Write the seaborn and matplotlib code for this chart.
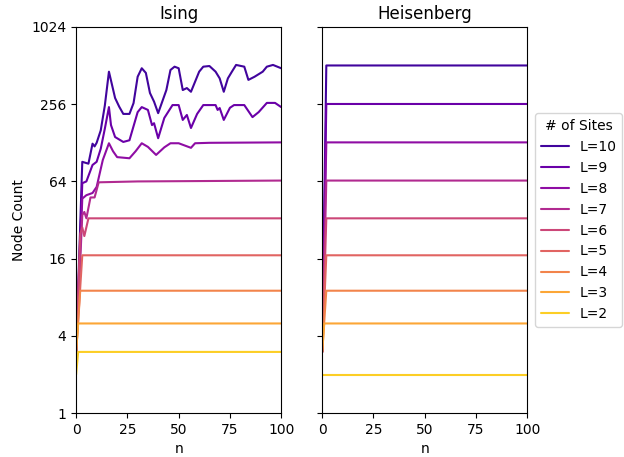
import numpy as np
import pandas as pd
import matplotlib
matplotlib.use("Agg")
import matplotlib.pyplot as plt
import seaborn as sns

# Node count vs. n for Ising and Heisenberg models, one line per number of sites

sites = [10, 9, 8, 7, 6, 5, 4, 3, 2]

# Ising: steps n and node counts
ising_n = {
    10: [0, 3, 6, 8, 9, 10, 12, 14, 16, 19, 21, 23, 26, 28, 30, 32, 34, 36, 38, 40, 44, 46, 48, 50,
         52, 54, 56, 57, 60, 62, 65, 68, 70, 72, 74, 76, 78, 82, 84, 87, 91, 93, 96, 100],
    9: [0, 3, 5, 8, 10, 12, 14, 16, 17, 19, 23, 26, 30, 32, 35, 37, 38, 40, 43, 47, 50, 52, 54, 56,
        59, 62, 68, 69, 70, 72, 75, 77, 82, 86, 89, 93, 97, 100],
    8: [0, 3, 5, 8, 10, 13, 16, 18, 20, 26, 29, 32, 35, 39, 43, 46, 50, 56, 58, 65, 100],
    7: [0, 3, 4, 5, 7, 9, 11, 30, 100],
    6: [0, 2, 3, 4, 6, 100],
    5: [0, 3, 100],
    4: [0, 2, 100],
    3: [0, 1, 100],
    2: [0, 1, 100],
}
ising_v = {
    10: [3, 91, 88, 126, 120, 128, 160, 250, 459, 286, 245, 215, 215, 261, 419, 488, 449, 313, 268, 218, 330, 473, 502, 488,
         330, 342, 320, 350, 459, 502, 508, 459, 407, 320, 407, 460, 518, 502, 396, 419, 459, 502, 518, 488],
    9: [3, 62, 64, 86, 91, 115, 165, 243, 176, 142, 130, 134, 222, 243, 231, 176, 182, 139, 200, 252, 252, 193, 211, 167,
        215, 252, 252, 231, 239, 193, 240, 252, 252, 203, 222, 262, 262, 243],
    8: [3, 47, 50, 52, 58, 94, 127, 110, 99, 97, 110, 127, 119, 103, 118, 127, 127, 117, 127, 128, 129],
    7: [3, 35, 37, 33, 48, 48, 63, 64, 65],
    6: [3, 25, 28, 24, 33, 33],
    5: [3, 17, 17],
    4: [3, 9, 9],
    3: [3, 5, 5],
    2: [2, 3, 3],
}

# Heisenberg: jumps straight to its plateau
heis_n = {10: [0, 2, 100], 9: [0, 2, 100], 8: [0, 2, 100], 7: [0, 2, 100], 6: [0, 2, 100],
          5: [0, 2, 100], 4: [0, 2, 100], 3: [0, 1, 100], 2: [0, 100]}
heis_v = {10: [3, 513, 513], 9: [3, 257, 257], 8: [3, 129, 129], 7: [3, 65, 65], 6: [3, 33, 33],
          5: [3, 17, 17], 4: [3, 9, 9], 3: [3, 5, 5], 2: [2, 2]}

y_ticks = [1, 4, 16, 64, 256, 1024]
x_ticks = [0, 25, 50, 75, 100]


def to_frame(ns, vs):
    rows = []
    for L in sites:
        for n, v in zip(ns[L], vs[L]):
            rows.append({"n": n, "count": v, "L": f"L={L}"})
    return pd.DataFrame(rows)


sns.set_style("ticks", {"axes.edgecolor": "black", "xtick.color": "black", "ytick.color": "black",
                        "text.color": "black", "axes.labelcolor": "black"})
plt.rcParams["font.family"] = ["DejaVu Sans"]

hue_order = [f"L={L}" for L in sites]
palette = sns.color_palette("plasma", len(sites))

fig, axes = plt.subplots(1, 2, figsize=(6.24, 4.57), dpi=100, sharey=True)
fig.subplots_adjust(left=0.122, right=0.845, bottom=0.096, top=0.941, wspace=0.2)

for ax, (ns, vs), title in zip(axes, [(ising_n, ising_v), (heis_n, heis_v)], ["Ising", "Heisenberg"]):
    df = to_frame(ns, vs)
    sns.lineplot(data=df, x="n", y="count", hue="L", hue_order=hue_order, palette=palette,
                 linewidth=1.5, ax=ax, legend=(title == "Heisenberg"))
    ax.set_yscale("log", base=2)
    ax.set_ylim(1, 1024)
    ax.set_xlim(0, 100)
    ax.set_yticks(y_ticks)
    ax.set_yticklabels([str(t) for t in y_ticks])
    ax.minorticks_off()
    ax.set_xticks(x_ticks)
    ax.set_title(title, fontsize=12)
    ax.set_xlabel("n")
    ax.set_ylabel("")

axes[0].set_ylabel("Node Count")
axes[1].tick_params(labelleft=False)

leg = axes[1].legend(title="# of Sites", loc="center left", bbox_to_anchor=(1.005, 0.5))

fig.savefig("out.png", dpi=100)
